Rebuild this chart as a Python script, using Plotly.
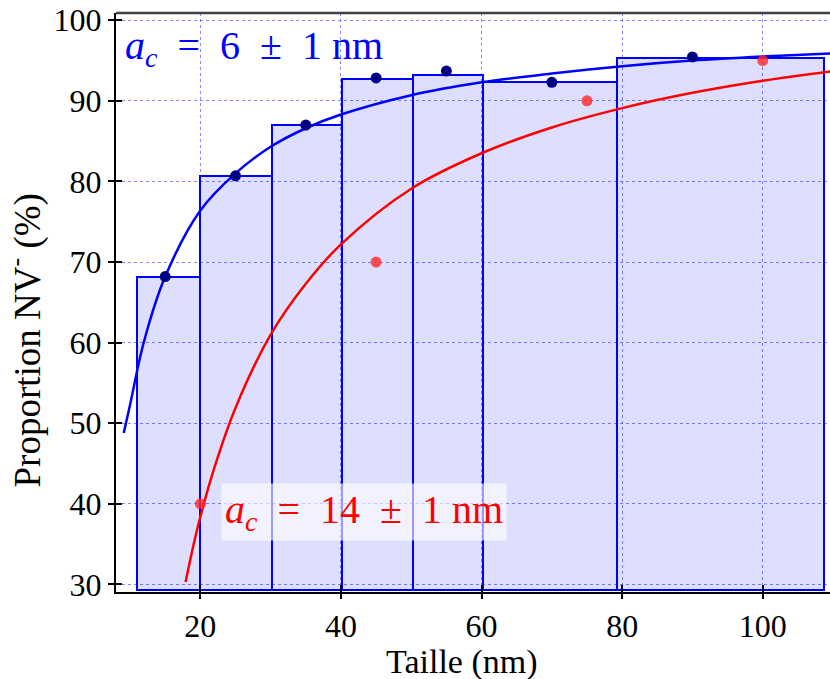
import plotly.graph_objects as go

# ---- data ----
bin_edges = [11.0, 20.0, 30.25, 40.2, 50.25, 60.25, 79.25, 108.75]
bin_heights = [68.15, 80.65, 86.95, 92.65, 93.15, 92.3, 95.3]
bar_base = 29.25

blue_x = [15, 25, 35, 45, 55, 70, 90]
blue_y = [68.2, 80.7, 87.0, 92.85, 93.7, 92.3, 95.45]

red_x = [20, 45, 75, 100]
red_y = [40, 70, 90, 95]

fit_blue_x = [9.1, 10, 12, 15, 20, 25, 30, 35, 40, 50, 60, 70, 80, 90, 100, 110]
fit_blue_y = [48.8, 52.3, 60.2, 68.2, 76.4, 81.0, 84.3, 86.6, 88.3, 90.7, 92.3, 93.4, 94.3, 95.0, 95.5, 95.9]

fit_red_x = [17.9, 19, 20, 22, 25, 30, 35, 40, 50, 60, 70, 80, 90, 100, 110]
fit_red_y = [30.3, 34.8, 38.4, 44.5, 51.9, 61.0, 67.3, 72.2, 79.1, 83.5, 86.7, 89.1, 91.0, 92.5, 93.7]

x_ticks = [20, 40, 60, 80, 100]
y_ticks = [30, 40, 50, 60, 70, 80, 90, 100]

EN = "\u2002"
label_blue = f"<i>a</i><sub><i>c</i></sub>{EN}={EN}6{EN}±{EN}1 nm"
label_red = f"<i>a</i><sub><i>c</i></sub>{EN}={EN}14{EN}±{EN}1 nm"
x_title = "Taille (nm)"
y_title = "Proportion NV<sup>-</sup> (%)"

FONT = "Liberation Serif"

centers = [(a + b) / 2 for a, b in zip(bin_edges[:-1], bin_edges[1:])]
widths = [b - a for a, b in zip(bin_edges[:-1], bin_edges[1:])]

fig = go.Figure()
fig.add_trace(go.Bar(
    x=centers, y=[h - bar_base for h in bin_heights], base=bar_base, width=widths,
    marker=dict(color="rgba(0,0,255,0.13)", line=dict(color="#0000ff", width=2)),
    hoverinfo="skip", showlegend=False))
fig.add_trace(go.Scatter(x=fit_blue_x, y=fit_blue_y, mode="lines",
                         line=dict(color="#0000ff", width=2.5, shape="spline"),
                         showlegend=False))
fig.add_trace(go.Scatter(x=fit_red_x, y=fit_red_y, mode="lines",
                         line=dict(color="#ff0000", width=2.5, shape="spline"),
                         showlegend=False))
fig.add_trace(go.Scatter(x=blue_x, y=blue_y, mode="markers",
                         marker=dict(color="#000080", size=11), showlegend=False))
fig.add_trace(go.Scatter(x=red_x, y=red_y, mode="markers",
                         marker=dict(color="rgba(255,40,40,0.8)", size=11), showlegend=False))
# dummy trace to activate overlay axes for inner ticks
fig.add_trace(go.Scatter(x=[50], y=[50], xaxis="x2", yaxis="y2", mode="markers",
                         marker=dict(opacity=0), hoverinfo="skip", showlegend=False))

xr = [8.0, 109.57]
yr = [29.06, 100.9]

fig.update_layout(
    width=830, height=679,
    margin=dict(l=116, r=0, t=13, b=87),
    paper_bgcolor="white", plot_bgcolor="white",
    font=dict(family=FONT, size=32, color="black"),
    bargap=0,
    xaxis=dict(range=xr, tickvals=x_ticks, ticks="outside", ticklen=5, tickwidth=1.5,
               tickcolor="black", showline=True, linecolor="black", linewidth=2,
               showgrid=True, gridcolor="rgba(60,60,255,0.6)", griddash="dot", gridwidth=1,
               zeroline=False, tickfont=dict(size=32)),
    yaxis=dict(range=yr, tickvals=y_ticks, ticks="outside", ticklen=6, tickwidth=1.5,
               tickcolor="black", showline=True, linecolor="black", linewidth=2,
               showgrid=True, gridcolor="rgba(60,60,255,0.6)", griddash="dot", gridwidth=1,
               zeroline=False, tickfont=dict(size=32)),
    xaxis2=dict(range=xr, overlaying="x", anchor="y", side="bottom", tickvals=x_ticks,
                ticks="inside", ticklen=7, tickwidth=1.5, tickcolor="black",
                showticklabels=False, showgrid=False, zeroline=False, showline=False),
    yaxis2=dict(range=yr, overlaying="y", anchor="x", side="left", tickvals=y_ticks,
                ticks="inside", ticklen=6, tickwidth=1.5, tickcolor="black",
                showticklabels=False, showgrid=False, zeroline=False, showline=False),
    shapes=[dict(type="line", xref="paper", yref="paper", x0=0, x1=1, y0=1, y1=1,
                 line=dict(color="#404040", width=2.5))],
    annotations=[
        dict(x=9.0, y=96.6, xref="x", yref="y", text=label_blue, showarrow=False,
             xanchor="left", yanchor="middle", font=dict(size=40, color="#0000ff", family=FONT)),
        dict(x=43.3, y=39.0, xref="x", yref="y", text=label_red, showarrow=False,
             xanchor="center", yanchor="middle", bgcolor="rgba(255,255,255,0.6)", borderpad=3,
             font=dict(size=40, color="#ff0000", family=FONT)),
        dict(x=0.4846, y=-0.121, xref="paper", yref="paper", text=x_title, showarrow=False,
             xanchor="center", yanchor="middle", font=dict(size=34, family=FONT)),
        dict(x=-0.127, y=0.435, xref="paper", yref="paper", text=y_title, showarrow=False,
             textangle=-90, xanchor="center", yanchor="middle", font=dict(size=37, family=FONT)),
    ],
)

fig.write_html("out.html")
